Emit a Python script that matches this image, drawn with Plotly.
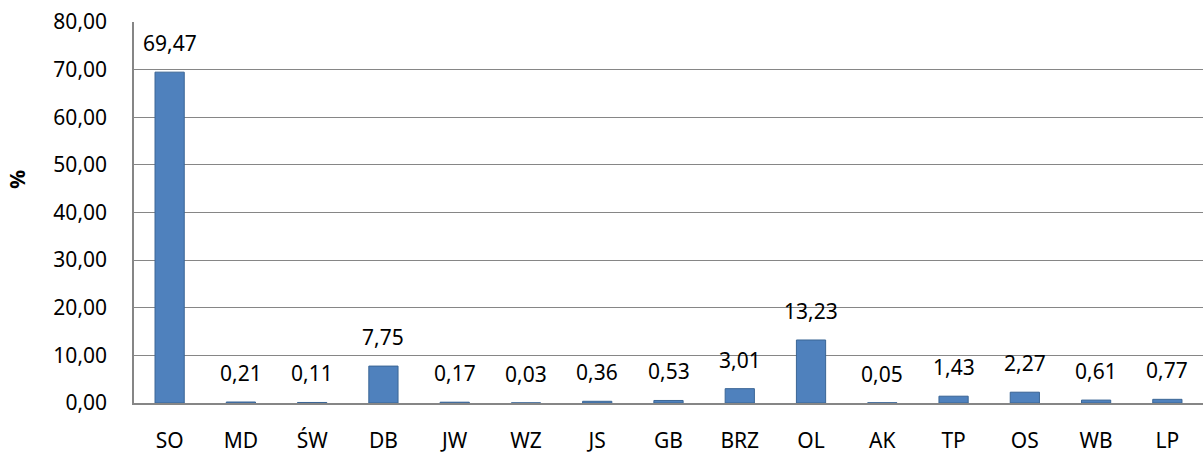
import plotly.graph_objects as go

categories = ["SO", "MD", "ŚW", "DB", "JW", "WZ", "JS", "GB", "BRZ", "OL", "AK", "TP", "OS", "WB", "LP"]
values = [69.47, 0.21, 0.11, 7.75, 0.17, 0.03, 0.36, 0.53, 3.01, 13.23, 0.05, 1.43, 2.27, 0.61, 0.77]
y_ticks = [0, 10, 20, 30, 40, 50, 60, 70, 80]

FONT = "Noto Sans"
FS = 21

fig = go.Figure()
fig.add_trace(go.Bar(
    x=categories, y=values,
    marker=dict(color="#4F81BD", line=dict(color="#3A6595", width=1)),
    width=0.41,
))

for c, v in zip(categories, values):
    fig.add_annotation(
        x=c, y=v, text=f"{v:.2f}".replace(".", ","),
        showarrow=False, yanchor="bottom", yshift=13,
        font=dict(family=FONT, size=FS, color="#000000"),
    )

fig.add_annotation(
    xref="paper", yref="paper", x=-0.109, y=0.587,
    text="<b>%</b>", showarrow=False, textangle=-90,
    xanchor="center", yanchor="middle",
    font=dict(family=FONT, size=FS, color="#000000"),
)

fig.update_layout(
    width=1203, height=454,
    margin=dict(l=134, r=0, t=22, b=46),
    paper_bgcolor="white", plot_bgcolor="white",
    separators=", ",
    showlegend=False,
    font=dict(family=FONT, size=FS, color="#000000"),
    bargap=0.59,
)
fig.update_xaxes(
    showgrid=False, showline=True, linecolor="#868686", linewidth=1.5,
    ticks="", tickfont=dict(size=FS), ticklabelstandoff=18,
)
fig.update_yaxes(
    range=[0, 80], tickvals=y_ticks, tickformat=".2f",
    showgrid=True, gridcolor="#868686", gridwidth=1,
    showline=True, linecolor="#868686", linewidth=1.5,
    ticks="", zeroline=False, tickfont=dict(size=FS), ticklabelstandoff=21,
)

fig.write_html(
    "out.html",
    config={"displayModeBar": False},
    post_script="document.body.style.margin='0';document.body.style.overflow='hidden';",
)
